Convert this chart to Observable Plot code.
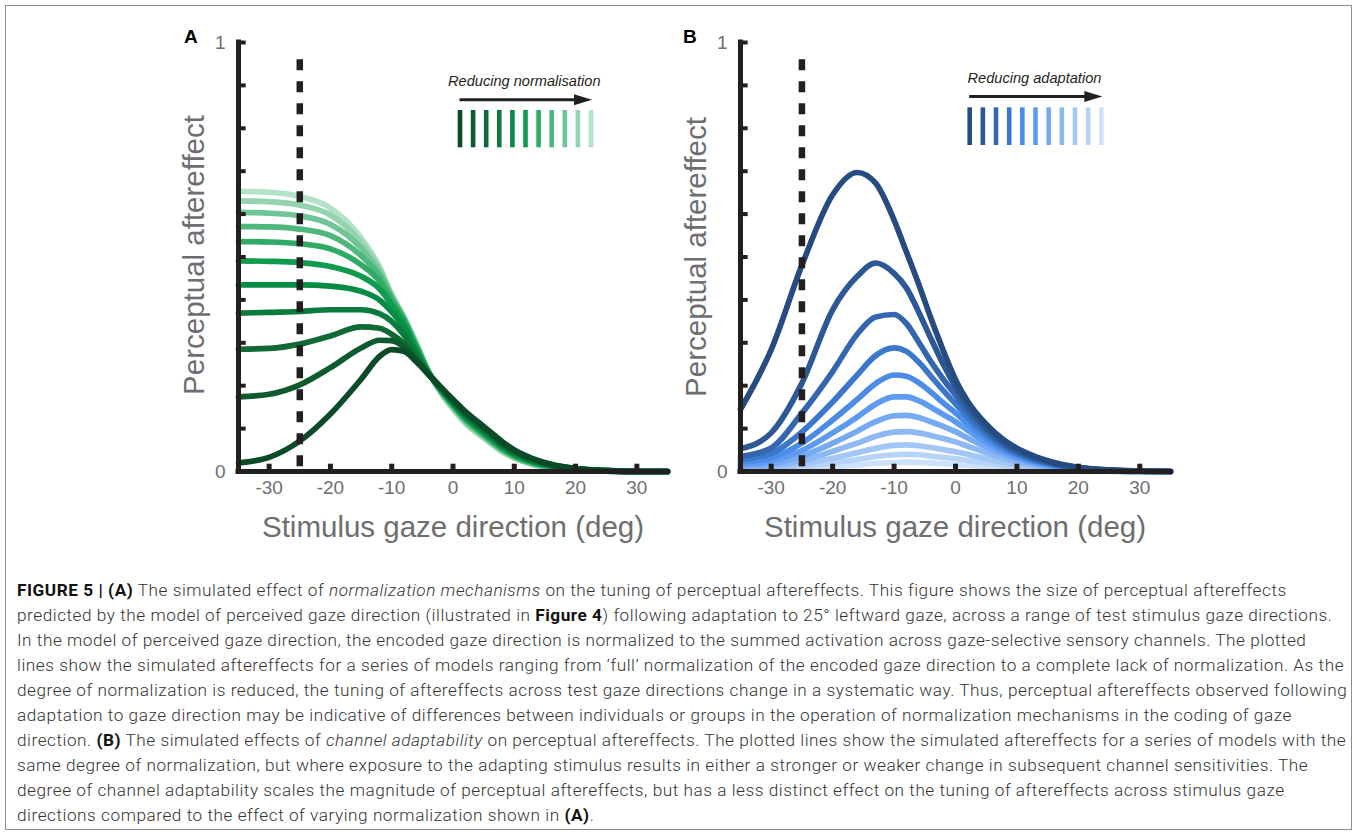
<!DOCTYPE html>
<html>
<head>
<meta charset="utf-8">
<script src="https://cdn.jsdelivr.net/npm/d3@7"></script>
<script src="https://cdn.jsdelivr.net/npm/@observablehq/plot@0.6"></script>
<style>
html,body{margin:0;padding:0;background:#fff;}
#page{position:relative;width:1357px;height:835px;overflow:hidden;background:#fff;}
#page > svg{position:absolute;margin:0;}
</style>
</head>
<body>
<div id="page"></div>
<script>
// ---------- shared axis values ----------
const xTickValues = [-30, -20, -10, 0, 10, 20, 30];
const yTickValues = [0, 0.1, 0.2, 0.3, 0.4, 0.5, 0.6, 0.7, 0.8, 0.9, 1];
const yLabelValues = [0, 1];
const adaptDeg = -25;          // adapting gaze direction (dashed line)
const dashTop = 0.96;

// ---------- Panel A: reducing normalisation (dark = full normalisation) ----------
const xA = [-35, -30, -25, -20, -15, -12, -10, -8, -6, -4, -2, 0, 2, 5, 8, 10, 13, 16, 20, 25, 30, 35];
const a1  = [0.020, 0.033, 0.071, 0.134, 0.215, 0.268, 0.284, 0.280, 0.256, 0.226, 0.197, 0.168, 0.140, 0.105, 0.070, 0.050, 0.030, 0.017, 0.007, 0.002, 0.000, 0.000];
const a2  = [0.174, 0.180, 0.202, 0.242, 0.288, 0.306, 0.305, 0.290, 0.261, 0.227, 0.196, 0.166, 0.138, 0.102, 0.067, 0.048, 0.029, 0.016, 0.007, 0.002, 0.000, 0.000];
const a3  = [0.285, 0.287, 0.297, 0.316, 0.337, 0.334, 0.320, 0.298, 0.264, 0.227, 0.195, 0.164, 0.135, 0.099, 0.065, 0.046, 0.027, 0.015, 0.006, 0.002, 0.000, 0.000];
const a4  = [0.369, 0.371, 0.373, 0.377, 0.377, 0.368, 0.350, 0.318, 0.272, 0.228, 0.194, 0.162, 0.132, 0.096, 0.062, 0.044, 0.025, 0.014, 0.006, 0.002, 0.000, 0.000];
const a5  = [0.435, 0.435, 0.435, 0.432, 0.420, 0.400, 0.372, 0.335, 0.280, 0.229, 0.192, 0.159, 0.129, 0.093, 0.059, 0.041, 0.024, 0.013, 0.005, 0.002, 0.000, 0.000];
const a6  = [0.491, 0.490, 0.487, 0.478, 0.455, 0.426, 0.388, 0.345, 0.286, 0.230, 0.191, 0.157, 0.126, 0.090, 0.057, 0.039, 0.022, 0.012, 0.005, 0.001, 0.000, 0.000];
const a7  = [0.536, 0.535, 0.531, 0.519, 0.482, 0.444, 0.398, 0.352, 0.290, 0.231, 0.190, 0.155, 0.123, 0.087, 0.054, 0.037, 0.021, 0.011, 0.004, 0.001, 0.000, 0.000];
const a8  = [0.571, 0.570, 0.565, 0.550, 0.503, 0.456, 0.404, 0.355, 0.293, 0.232, 0.188, 0.153, 0.121, 0.085, 0.052, 0.035, 0.019, 0.010, 0.004, 0.001, 0.000, 0.000];
const a9  = [0.604, 0.602, 0.596, 0.576, 0.521, 0.465, 0.408, 0.357, 0.296, 0.233, 0.187, 0.151, 0.118, 0.083, 0.050, 0.034, 0.018, 0.009, 0.004, 0.001, 0.000, 0.000];
const a10 = [0.631, 0.629, 0.621, 0.598, 0.535, 0.472, 0.411, 0.359, 0.298, 0.234, 0.185, 0.148, 0.115, 0.080, 0.048, 0.032, 0.017, 0.009, 0.003, 0.001, 0.000, 0.000];
const a11 = [0.653, 0.651, 0.641, 0.614, 0.545, 0.478, 0.413, 0.360, 0.300, 0.235, 0.183, 0.145, 0.112, 0.078, 0.046, 0.031, 0.016, 0.008, 0.003, 0.001, 0.000, 0.000];
const seriesA = [a1, a2, a3, a4, a5, a6, a7, a8, a9, a10, a11];
const greens = ["#0b4a27", "#0e5a2f", "#0f6a36", "#0b7b3d", "#078c45", "#0f9b4e", "#2fab66", "#4eb87c", "#6fc595", "#93d4ae", "#b4e2c8"];

// ---------- Panel B: reducing adaptation ----------
const xB = [-35, -30, -25, -20, -16, -13, -10, -8, -6, -4, -2, 0, 2, 5, 8, 11, 15, 20, 25, 30, 35];
const b1  = [0.145, 0.284, 0.481, 0.645, 0.697, 0.672, 0.586, 0.512, 0.437, 0.357, 0.282, 0.214, 0.163, 0.110, 0.072, 0.047, 0.025, 0.010, 0.004, 0.001, 0.000];
const b2  = [0.053, 0.090, 0.206, 0.377, 0.455, 0.486, 0.462, 0.428, 0.372, 0.310, 0.250, 0.197, 0.152, 0.102, 0.066, 0.043, 0.023, 0.009, 0.003, 0.001, 0.000];
const b3  = [0.035, 0.055, 0.136, 0.233, 0.320, 0.360, 0.366, 0.345, 0.302, 0.256, 0.215, 0.178, 0.140, 0.094, 0.061, 0.040, 0.021, 0.008, 0.003, 0.001, 0.000];
const b4  = [0.028, 0.042, 0.092, 0.162, 0.225, 0.270, 0.288, 0.280, 0.255, 0.222, 0.189, 0.158, 0.126, 0.086, 0.056, 0.036, 0.019, 0.007, 0.002, 0.001, 0.000];
const b5  = [0.022, 0.032, 0.066, 0.120, 0.168, 0.205, 0.225, 0.222, 0.207, 0.185, 0.160, 0.137, 0.111, 0.077, 0.050, 0.032, 0.017, 0.006, 0.002, 0.001, 0.000];
const b6  = [0.017, 0.025, 0.049, 0.090, 0.127, 0.157, 0.174, 0.174, 0.165, 0.150, 0.133, 0.116, 0.096, 0.068, 0.045, 0.029, 0.015, 0.006, 0.002, 0.000, 0.000];
const b7  = [0.013, 0.018, 0.036, 0.066, 0.094, 0.116, 0.130, 0.131, 0.126, 0.116, 0.105, 0.093, 0.078, 0.057, 0.038, 0.025, 0.013, 0.005, 0.002, 0.000, 0.000];
const b8  = [0.009, 0.013, 0.025, 0.047, 0.066, 0.082, 0.092, 0.093, 0.090, 0.084, 0.077, 0.069, 0.059, 0.044, 0.030, 0.020, 0.010, 0.004, 0.001, 0.000, 0.000];
const b9  = [0.006, 0.009, 0.017, 0.031, 0.044, 0.054, 0.061, 0.062, 0.060, 0.056, 0.051, 0.046, 0.040, 0.030, 0.021, 0.014, 0.007, 0.003, 0.001, 0.000, 0.000];
const b10 = [0.004, 0.006, 0.011, 0.020, 0.028, 0.035, 0.039, 0.040, 0.039, 0.036, 0.033, 0.030, 0.026, 0.020, 0.014, 0.009, 0.005, 0.002, 0.001, 0.000, 0.000];
const b11 = [0.002, 0.003, 0.006, 0.011, 0.015, 0.019, 0.021, 0.022, 0.021, 0.020, 0.018, 0.016, 0.014, 0.011, 0.008, 0.005, 0.003, 0.001, 0.000, 0.000, 0.000];
const seriesB = [b1, b2, b3, b4, b5, b6, b7, b8, b9, b10, b11];
const blues = ["#264b80", "#2c5896", "#3366ae", "#3b78cb", "#4b8ce9", "#5e9bf0", "#76aaf2", "#8cb8f4", "#a2c6f6", "#b7d4f8", "#cce1fa"];

// ---------- texts ----------
const yTitle = "Perceptual aftereffect";
const xTitle = "Stimulus gaze direction (deg)";
const legendTextA = "Reducing normalisation";
const legendTextB = "Reducing adaptation";
const captionLines = [
  [["FIGURE 5 | (A)", "b"], [" The simulated effect of ", ""], ["normalization mechanisms", "i"], [" on the tuning of perceptual aftereffects. This figure shows the size of perceptual aftereffects", ""]],
  [["predicted by the model of perceived gaze direction (illustrated in ", ""], ["Figure 4", "b"], [") following adaptation to 25° leftward gaze, across a range of test stimulus gaze directions.", ""]],
  [["In the model of perceived gaze direction, the encoded gaze direction is normalized to the summed activation across gaze-selective sensory channels. The plotted", ""]],
  [["lines show the simulated aftereffects for a series of models ranging from \u2018full\u2019 normalization of the encoded gaze direction to a complete lack of normalization. As the", ""]],
  [["degree of normalization is reduced, the tuning of aftereffects across test gaze directions change in a systematic way. Thus, perceptual aftereffects observed following", ""]],
  [["adaptation to gaze direction may be indicative of differences between individuals or groups in the operation of normalization mechanisms in the coding of gaze", ""]],
  [["direction. ", ""], ["(B)", "b"], [" The simulated effects of ", ""], ["channel adaptability", "i"], [" on perceptual aftereffects. The plotted lines show the simulated aftereffects for a series of models with the", ""]],
  [["same degree of normalization, but where exposure to the adapting stimulus results in either a stronger or weaker change in subsequent channel sensitivities. The", ""]],
  [["degree of channel adaptability scales the magnitude of perceptual aftereffects, but has a less distinct effect on the tuning of aftereffects across stimulus gaze", ""]],
  [["directions compared to the effect of varying normalization shown in ", ""], ["(A)", "b"], [".", ""]]
];
// approximate right ends of the caption lines in the reference (used only to fit letter spacing)
const captionLineEnds = [1287, 1337, 1318, 1339, 1341, 1292, 1339, 1313, 1277];

// ---------- drawing ----------
const page = document.getElementById("page");
const FONT = "'Liberation Sans', Arial, Helvetica, sans-serif";
const CAPFONT = "Roboto, 'Liberation Sans', Arial, sans-serif";
const AXIS = "#231f20";
const GREY = "#6d6e71";

function makePanel(xs, series, colors, left, width, marginLeft, marginRight) {
  const rows = [];
  for (let k = series.length - 1; k >= 0; k--) {
    series[k].forEach((v, j) => rows.push({x: xs[j], y: v, k}));
  }
  const svg = Plot.plot({
    width, height: 560,
    marginLeft, marginRight, marginTop: 42, marginBottom: 89,
    style: {fontFamily: FONT, fontSize: "19px", color: GREY, background: "transparent", overflow: "visible"},
    x: {domain: [-35, 35], ticks: xTickValues, tickSize: 0, tickPadding: 9, label: null, tickFormat: d => String(d)},
    y: {domain: [0, 1], ticks: yLabelValues, tickSize: 0, tickPadding: 13, label: null, tickFormat: d => String(d)},
    marks: [
      Plot.line(rows, {x: "x", y: "y", z: "k", stroke: d => colors[d.k], strokeWidth: 5.7, curve: "monotone-x"}),
      Plot.ruleX([adaptDeg], {y1: dashTop, y2: 0, stroke: AXIS, strokeWidth: 6.5, strokeDasharray: "11,11"}),
      Plot.ruleY(yTickValues, {x1: -35, x2: -33.75, stroke: AXIS, strokeWidth: 4}),
      Plot.ruleX(xTickValues, {y1: 0, y2: 0.017, stroke: AXIS, strokeWidth: 5}),
      Plot.ruleX([-35], {y1: 0, y2: 1, stroke: AXIS, strokeWidth: 5, strokeLinecap: "square"}),
      Plot.ruleY([0], {x1: -35, x2: 35, stroke: AXIS, strokeWidth: 5, strokeLinecap: "square"})
    ]
  });
  svg.style.left = left + "px";
  svg.style.top = "0px";
  page.appendChild(svg);
}

const arrowHead = {
  draw(ctx) { ctx.moveTo(1, 0); ctx.lineTo(-17, -5.5); ctx.lineTo(-17, 5.5); ctx.closePath(); }
};

function makeLegend(colors, left, top, xr, yr, barTop) {
  const idx = d3.range(colors.length);
  const svg = Plot.plot({
    width: 175, height: 100, margin: 0,
    x: {domain: [0, colors.length - 1], range: xr, axis: null},
    y: {domain: [0, 1], range: yr, axis: null},
    style: {background: "transparent", overflow: "visible"},
    marks: [
      Plot.ruleX(idx, {x: d => d, y1: 0, y2: barTop, stroke: d => colors[d], strokeWidth: 4.6}),
      Plot.ruleY([1], {x1: 0, x2: colors.length - 1.8, stroke: AXIS, strokeWidth: 3}),
      Plot.dot([colors.length - 1], {x: d => d, y: () => 1, symbol: arrowHead, fill: AXIS, stroke: "none", r: 6})
    ]
  });
  svg.style.left = left + "px";
  svg.style.top = top + "px";
  page.appendChild(svg);
}

makePanel(xA, seriesA, greens, 0, 680, 238, 13);
makePanel(xB, seriesB, blues, 680, 677, 60, 187);
makeLegend(greens, 440, 65, [19.5, 150.5], [82.3, 34.3], 0.777);
makeLegend(blues, 950, 65, [19.2, 150.8], [80, 31], 0.769);

// overlay: frame, titles, letters, legend text, caption
const ov = d3.create("svg").attr("width", 1357).attr("height", 835)
  .style("left", "0px").style("top", "0px").style("font-family", FONT);
ov.append("rect").attr("x", 5.5).attr("y", 5.5).attr("width", 1346).attr("height", 824)
  .attr("fill", "none").attr("stroke", "#8c8c8c").attr("stroke-width", 1);

ov.append("text").attr("x", 184).attr("y", 43).attr("font-size", 19).attr("font-weight", "bold").attr("fill", "#000").text("A");
ov.append("text").attr("x", 683).attr("y", 43).attr("font-size", 19).attr("font-weight", "bold").attr("fill", "#000").text("B");

[[204, 255], [705.5, 257]].forEach(([x, y]) => {
  ov.append("text").attr("transform", `translate(${x},${y}) rotate(-90)`).attr("text-anchor", "middle")
    .attr("font-size", 29.5).attr("fill", GREY).text(yTitle);
});
[453, 955].forEach(x => {
  ov.append("text").attr("x", x).attr("y", 537).attr("text-anchor", "middle")
    .attr("font-size", 29.5).attr("fill", GREY).text(xTitle);
});
ov.append("text").attr("x", 448).attr("y", 86).attr("font-size", 14.6).attr("font-style", "italic").attr("fill", AXIS).text(legendTextA);
ov.append("text").attr("x", 967.5).attr("y", 83).attr("font-size", 14.6).attr("font-style", "italic").attr("fill", AXIS).text(legendTextB);

const CAPX = 17;
const capEls = captionLines.map((segs, i) => {
  const t = ov.append("text").attr("x", CAPX).attr("y", 595.7 + 25 * i)
    .attr("font-family", CAPFONT).attr("font-size", 17.2).attr("font-weight", 300).attr("fill", "#333");
  segs.forEach(([s, st]) => {
    const ts = t.append("tspan").text(s);
    if (st === "b") ts.attr("font-weight", "bold").attr("fill", "#111");
    if (st === "i") ts.attr("font-style", "italic");
  });
  return t;
});
page.appendChild(ov.node());

// least-squares fit of a single letter spacing to the reference line ends
let num = 0, den = 0;
captionLineEnds.forEach((end, i) => {
  const node = capEls[i].node();
  const nat = node.getComputedTextLength();
  const n = node.textContent.length - 1;
  num += (end - CAPX - nat) * n;
  den += n * n;
});
const ls = num / den;
capEls.forEach(t => t.attr("letter-spacing", ls.toFixed(3)));
</script>
</body>
</html>
